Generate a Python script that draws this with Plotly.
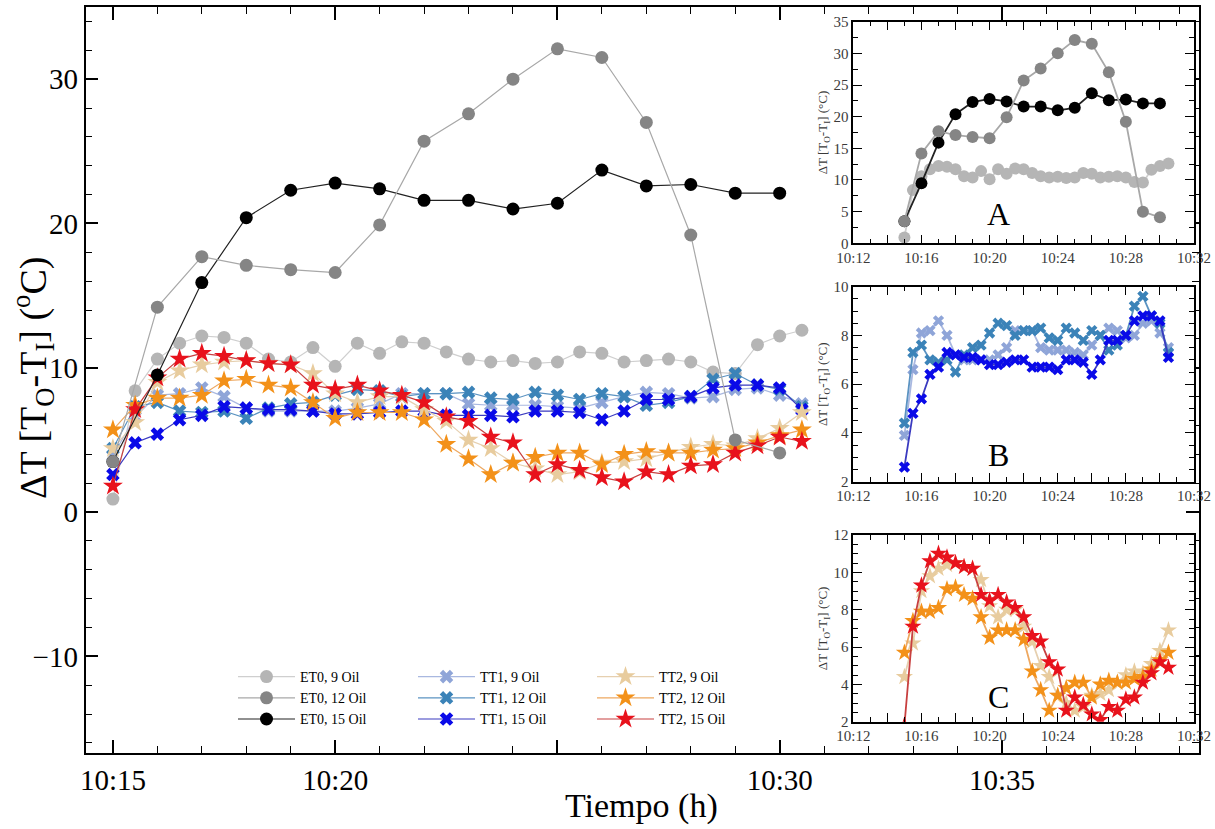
import plotly.graph_objects as go

W, H = 1215, 829
DAY = "2019-01-01 "
FONT = "Liberation Serif"

# ---------------- data ----------------
t_half = ["10:15:00", "10:15:30", "10:16:00", "10:16:30", "10:17:00", "10:17:30", "10:18:00", "10:18:30",
          "10:19:00", "10:19:30", "10:20:00", "10:20:30", "10:21:00", "10:21:30", "10:22:00", "10:22:30",
          "10:23:00", "10:23:30", "10:24:00", "10:24:30", "10:25:00", "10:25:30", "10:26:00", "10:26:30",
          "10:27:00", "10:27:30", "10:28:00", "10:28:30", "10:29:00", "10:29:30", "10:30:00", "10:30:30"]
t_min = ["10:15", "10:16", "10:17", "10:18", "10:19", "10:20", "10:21", "10:22",
         "10:23", "10:24", "10:25", "10:26", "10:27", "10:28", "10:29", "10:30"]

et0_9 = [0.9, 8.4, 10.6, 11.7, 12.2, 12.1, 11.7, 10.6, 10.4, 11.4, 10.1, 11.7, 11.0, 11.8, 11.7, 11.1,
         10.6, 10.4, 10.5, 10.3, 10.4, 11.1, 11.0, 10.4, 10.5, 10.6, 10.4, 9.7, 9.6, 11.6, 12.2, 12.6]
et0_12 = [3.5, 14.2, 17.7, 17.1, 16.8, 16.6, 19.9, 25.7, 27.6, 30.0, 32.1, 31.5, 27.0, 19.2, 5.0, 4.1]
et0_15 = [3.5, 9.5, 15.9, 20.4, 22.3, 22.8, 22.4, 21.6, 21.6, 21.0, 21.4, 23.7, 22.6, 22.7, 22.1, 22.1]

tt1_9 = [3.9, 6.6, 8.1, 8.2, 8.6, 8.0, 7.2, 7.0, 7.0, 7.0, 7.0, 7.2, 7.5, 8.2, 8.2, 8.2,
         7.5, 7.4, 7.4, 7.4, 7.3, 7.2, 7.6, 8.0, 8.3, 8.2, 7.9, 8.0, 8.5, 8.6, 8.1, 7.5]
tt1_12 = [4.4, 7.3, 7.6, 7.0, 6.9, 7.0, 6.5, 7.2, 7.5, 7.6, 8.1, 8.5, 8.4, 8.0, 8.2, 8.2,
          8.3, 7.9, 7.8, 8.3, 8.1, 7.8, 8.2, 8.0, 7.4, 7.6, 8.0, 9.2, 9.6, 8.8, 8.5, 7.3]
tt1_15 = [2.6, 4.8, 5.4, 6.4, 6.7, 7.3, 7.2, 7.1, 7.1, 7.0, 6.8, 6.8, 6.9, 7.0, 7.0, 6.7,
          6.7, 6.7, 6.6, 7.0, 7.0, 6.9, 6.4, 7.0, 7.8, 7.8, 8.0, 8.6, 8.8, 8.8, 8.6, 7.1]

tt2_9 = [4.4, 6.2, 9.0, 9.8, 10.2, 10.4, 10.5, 10.3, 10.2, 9.6, 8.2, 7.6, 8.0, 8.0, 7.1, 6.3,
         5.0, 4.4, 3.4, 3.0, 2.6, 2.8, 3.4, 3.5, 3.7, 4.1, 4.5, 4.7, 4.6, 5.1, 5.8, 6.9]
tt2_12 = [5.7, 7.4, 7.9, 7.9, 8.1, 9.1, 9.2, 8.8, 8.6, 7.6, 6.5, 6.9, 6.9, 6.9, 6.4, 4.7,
          3.7, 2.6, 3.4, 3.8, 4.1, 4.1, 3.3, 4.0, 4.2, 4.1, 4.1, 4.3, 4.4, 4.8, 5.3, 5.7]
tt2_15 = [1.8, 7.1, 9.3, 10.6, 11.0, 10.8, 10.5, 10.3, 10.2, 8.8, 8.5, 8.8, 8.4, 8.1, 7.6, 6.6,
          6.3, 5.2, 4.8, 2.6, 3.3, 2.9, 2.4, 2.1, 2.8, 2.6, 3.2, 3.3, 4.1, 4.6, 5.2, 4.9]

main_xticks = ["10:15", "10:20", "10:25", "10:30", "10:35"]
main_xtext = ["10:15", "10:20", "", "10:30", "10:35"]
inset_xticks = ["10:12", "10:14", "10:16", "10:18", "10:20", "10:22", "10:24", "10:26", "10:28", "10:30", "10:32"]
inset_xtext = ["10:12", "", "10:16", "", "10:20", "", "10:24", "", "10:28", "", "10:32"]

xh = [DAY + t for t in t_half]
xm = [DAY + t + ":00" for t in t_min]

# drawing order (legend order handled by legendrank)
series = [
    # name, x, y, symbol, marker color, line color, size(main), size(inset), group, legend, rank
    ("ET0, 9 Oil", xh, et0_9, "circle", "#b5b5b5", "#cfcfcf", 13, 12, "A", "legend", 1),
    ("TT1, 9 Oil", xh, tt1_9, "x", "#8fa5d8", "#a9b8e0", 12, 10, "B", "legend2", 1),
    ("TT1, 12 Oil", xh, tt1_12, "x", "#3b83b8", "#5b93c2", 12, 10, "B", "legend2", 2),
    ("TT1, 15 Oil", xh, tt1_15, "x", "#0a0ae8", "#3a3ac0", 12, 10, "B", "legend2", 3),
    ("TT2, 9 Oil", xh, tt2_9, "star", "#e8cc9e", "#e6d0b0", 15, 13, "C", "legend3", 1),
    ("TT2, 12 Oil", xh, tt2_12, "star", "#f39119", "#eea860", 15, 13, "C", "legend3", 2),
    ("TT2, 15 Oil", xh, tt2_15, "star", "#e8121c", "#c84040", 15, 13, "C", "legend3", 3),
    ("ET0, 15 Oil", xm, et0_15, "circle", "#000000", "#222222", 13, 12, "A", "legend", 3),
    ("ET0, 12 Oil", xm, et0_12, "circle", "#858585", "#a8a8a8", 13, 12, "A", "legend", 2),
]

fig = go.Figure()
inset_axes = {"A": ("x2", "y2"), "B": ("x3", "y3"), "C": ("x4", "y4")}

for name, xs, ys, sym, mc, lc, s_main, s_in, grp, leg, rank in series:
    fig.add_trace(go.Scatter(
        x=xs, y=ys, name=name, mode="lines+markers",
        line=dict(color=lc, width=1.2),
        marker=dict(symbol=sym, size=s_main, color=mc, line=dict(width=0)),
        legend=leg, legendrank=rank,
        xaxis="x", yaxis="y", showlegend=True))
for name, xs, ys, sym, mc, lc, s_main, s_in, grp, leg, rank in series:
    xa, ya = inset_axes[grp]
    fig.add_trace(go.Scatter(
        x=xs, y=ys, name=name, mode="lines+markers",
        line=dict(color=lc, width=1.8),
        marker=dict(symbol=sym, size=s_in, color=mc, line=dict(width=0)),
        xaxis=xa, yaxis=ya, showlegend=False))


def px_x(p):
    return p / W


def px_y(p):
    return 1 - p / H


axis_common = dict(showline=True, linecolor="black", linewidth=1.5, mirror="ticks",
                   ticks="inside", tickcolor="black", showgrid=False, zeroline=False)

main_x0, main_x1, main_top = 85.5, 1199, 7
y_lo, y_hi = -16.7, 35
main_bot = main_top + (y_hi - y_lo) * 14.43
in_x0, in_x1 = 853.3, 1194

layout = dict(
    width=W, height=H,
    margin=dict(l=0, r=0, t=0, b=0),
    paper_bgcolor="white", plot_bgcolor="white",
    font=dict(family=FONT, color="black"),
    xaxis=dict(domain=[px_x(main_x0), px_x(main_x1)], anchor="y", type="date",
               range=[DAY + "10:14:23", DAY + "10:39:26"],
               tickvals=[DAY + t for t in main_xticks], ticktext=main_xtext,
               ticklen=13, tickwidth=1.5, tickfont=dict(size=29, family=FONT, color="black"),
               minor=dict(dtick=60000, ticklen=7, tickwidth=1, ticks="inside", tickcolor="black", showgrid=False),
               automargin=False, **axis_common),
    yaxis=dict(domain=[px_y(main_bot), px_y(main_top)], anchor="x",
               range=[y_lo, y_hi], tick0=0, dtick=10,
               ticklen=13, tickwidth=1.5, tickfont=dict(size=29, family=FONT, color="black"),
               minor=dict(dtick=2, ticklen=7, tickwidth=1, ticks="inside", tickcolor="black", showgrid=False),
               automargin=False, **axis_common),
)

insets = [("2", 21.7, 243.3, [0, 35], 5, 2.5),
          ("3", 286.7, 481.7, [2, 10], 2, 0.5),
          ("4", 535.0, 721.7, [2, 12], 2, 0.5)]
for k, top, bot, yr, dt, mdt in insets:
    layout["xaxis" + k] = dict(domain=[px_x(in_x0), px_x(in_x1)], anchor="y" + k, type="date",
                               range=[DAY + "10:12", DAY + "10:32"],
                               tickvals=[DAY + t for t in inset_xticks], ticktext=inset_xtext,
                               ticklen=9, tickwidth=1.3,
                               tickfont=dict(size=15, family=FONT, color="#3a3a3a"),
                               minor=dict(dtick=60000, ticklen=5, tickwidth=1, ticks="inside",
                                          tickcolor="black", showgrid=False),
                               automargin=False, **axis_common)
    layout["yaxis" + k] = dict(domain=[px_y(bot), px_y(top)], anchor="x" + k,
                               range=yr, tick0=0, dtick=dt,
                               ticklen=9, tickwidth=1.3,
                               tickfont=dict(size=15, family=FONT, color="#3a3a3a"),
                               minor=dict(dtick=mdt, ticklen=5, tickwidth=1, ticks="inside",
                                          tickcolor="black", showgrid=False),
                               title=dict(text="ΔT [T<sub>O</sub>-T<sub>I</sub>] (°C)",
                                          font=dict(size=13, family=FONT, color="#3a3a3a"), standoff=3),
                               automargin=False, **axis_common)

leg_common = dict(orientation="v", xanchor="left", yanchor="top", bgcolor="rgba(0,0,0,0)",
                  font=dict(size=14, family=FONT, color="black"), itemwidth=57,
                  tracegroupgap=0)
layout["legend"] = dict(x=px_x(233), y=px_y(661), **leg_common)
layout["legend2"] = dict(x=px_x(413), y=px_y(661), **leg_common)
layout["legend3"] = dict(x=px_x(592), y=px_y(661), **leg_common)

ann_common = dict(xref="paper", yref="paper", showarrow=False, xanchor="center", yanchor="middle")
annotations = [
    dict(text="ΔT [T<sub>O</sub>-T<sub>I</sub>] (<sup>o</sup>C)", textangle=-90,
         x=px_x(33), y=px_y(378), font=dict(size=38, family=FONT, color="black"), **ann_common),
    dict(text="Tiempo (h)", x=px_x(641), y=px_y(806),
         font=dict(size=34, family=FONT, color="black"), **ann_common),
    dict(text="A", x=px_x(998), y=px_y(214), font=dict(size=32, family=FONT, color="black"), **ann_common),
    dict(text="B", x=px_x(998), y=px_y(455), font=dict(size=32, family=FONT, color="black"), **ann_common),
    dict(text="C", x=px_x(998), y=px_y(697), font=dict(size=32, family=FONT, color="black"), **ann_common),
]
layout["annotations"] = annotations

fig.update_layout(**layout)
fig.write_html("out.html")
